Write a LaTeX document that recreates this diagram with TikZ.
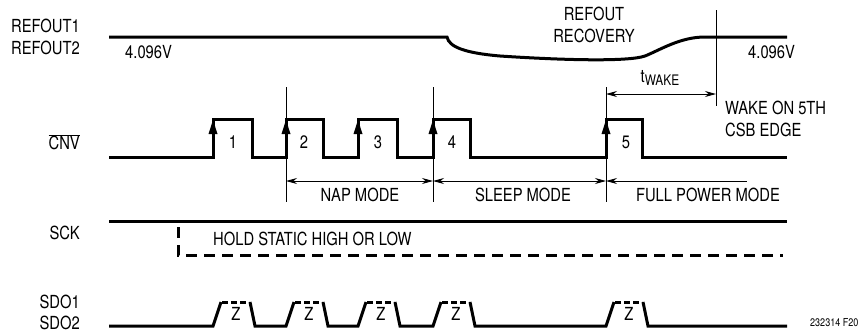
\documentclass[tikz,border=0pt]{standalone}
\usepackage{fontspec}
\setmainfont{TeX Gyre Heros}[FakeStretch=0.82]
\usetikzlibrary{arrows.meta}
\newcommand{\labfont}{\fontsize{18}{20}\selectfont}
\newcommand{\tinyfont}{\fontsize{11}{13}\selectfont}
\begin{document}
\begin{tikzpicture}[x=1pt,y=-1pt,
  sig/.style={line width=3pt,line join=miter},
  thin/.style={line width=0.9pt},
  dsh/.style={line width=3pt,dash pattern=on 11pt off 7pt},
  zdash/.style={line width=2.4pt,dash pattern=on 6pt off 3pt},
  lbl/.style={font=\labfont,inner sep=0pt},
  modearrow/.style={line width=0.9pt,{Stealth[length=11pt,width=6pt]}-{Stealth[length=11pt,width=6pt]}},
  edgetip/.style={fill=black}]
\useasboundingbox (0,0) rectangle (860,333);
% labels
\node[lbl,anchor=east] (l1) at (80,26) {REFOUT1};
\node[lbl,anchor=east] (l2) at (80,48) {REFOUT2};
\node[lbl,anchor=east] (l3) at (80,142) {$\overline{\hbox{CNV}}$};
\node[lbl,anchor=east] (l4) at (80,233) {SCK};
\node[lbl,anchor=east] (l5) at (80,302) {SDO1};
\node[lbl,anchor=east] (l6) at (80,323) {SDO2};
\node[lbl,anchor=west] (v1) at (125,52) {4.096V};
\node[lbl,anchor=west] (v2) at (748,52) {4.096V};
\node[lbl] (rr1) at (594,14) {REFOUT};
\node[lbl] (rr2) at (594,36) {RECOVERY};
\node[lbl,anchor=west] (w1) at (725,108) {WAKE ON 5TH};
\node[lbl,anchor=west] (w2) at (725,130) {CSB EDGE};
\node[lbl] (tw) at (660,78) {t\raisebox{-3pt}{\fontsize{14.5}{16}\selectfont WAKE}};
\node[lbl,anchor=west] (hold) at (213,239) {HOLD STATIC HIGH OR LOW};
\node[lbl] (nap) at (360,195) {NAP MODE};
\node[lbl] (slp) at (523,195) {SLEEP MODE};
\node[lbl] (fpm) at (708,195) {FULL POWER MODE};
\node[font=\tinyfont,inner sep=0pt,anchor=west] (fig) at (810,323) {232314 F20};
% REFOUT waveform
\draw[sig] (109,37) -- (447,37) .. controls (449,47) and (465,53) .. (500,56)
  .. controls (560,60) and (628,62) .. (645,56)
  .. controls (660,50) and (680,37) .. (705,37) -- (787,37);
% CNV waveform
\draw[sig] (109,157) -- (213,157) -- (213,119) -- (252,119) -- (252,157) -- (286,157)
  -- (286,119) -- (323,119) -- (323,157) -- (358,157) -- (358,119) -- (397,119)
  -- (397,157) -- (433,157) -- (433,119) -- (470,119) -- (470,157) -- (606,157)
  -- (606,119) -- (642,119) -- (642,157) -- (787,157);
\foreach \x in {213,286,358,433,606}{
  \fill (\x,120) -- (\x-4.5,134) -- (\x+4.5,134) -- cycle;}
\foreach \n/\x in {1/233,2/304,3/378,4/452,5/626}{
  \node[lbl] (p\n) at (\x,142) {\n};}
% vertical markers
\coordinate (m1t) at (286,87); \coordinate (m1b) at (286,202);
\coordinate (m2t) at (433,87); \coordinate (m2b) at (433,202);
\coordinate (m3t) at (606,87); \coordinate (m3b) at (606,202);
\coordinate (wt) at (716,10); \coordinate (wb) at (716,106);
\draw[thin] (m1t) -- (m1b);
\draw[thin] (m2t) -- (m2b);
\draw[thin] (m3t) -- (m3b);
\draw[thin] (wt) -- (wb);
% mode arrows
\coordinate (a1) at (286,181); \coordinate (a2) at (433,181);
\coordinate (a3) at (606,181); \coordinate (a4) at (747,181);
\draw[modearrow] (a1) -- (a2);
\draw[modearrow] (a2) -- (a3);
\draw[line width=0.9pt,{Stealth[length=11pt,width=6pt]}-] (a3) -- (a4);
\coordinate (t1) at (606,94); \coordinate (t2) at (716,94);
\draw[modearrow] (t1) -- (t2);
% SCK
\draw[sig] (109,221) -- (787,221);
\draw[dsh] (178,227) -- (178,255) -- (783,255);
% SDO
\draw[sig] (109,326) -- (213,326) -- (221,302)
  (250,302) -- (255,326) -- (286,326) -- (294,302)
  (323,302) -- (328,326) -- (358,326) -- (366,302)
  (395,302) -- (400,326) -- (433,326) -- (441,302)
  (470,302) -- (475,326) -- (606,326) -- (614,302)
  (643,302) -- (648,326) -- (787,326);
\foreach \x in {221,294,366,441,614}{
  \draw[zdash] (\x+1,302.5) -- (\x+28,302.5);}
\foreach \n/\x in {1/236,2/309,3/381,4/456,5/629}{
  \node[lbl] (z\n) at (\x,314) {Z};}
\end{tikzpicture}
\end{document}
